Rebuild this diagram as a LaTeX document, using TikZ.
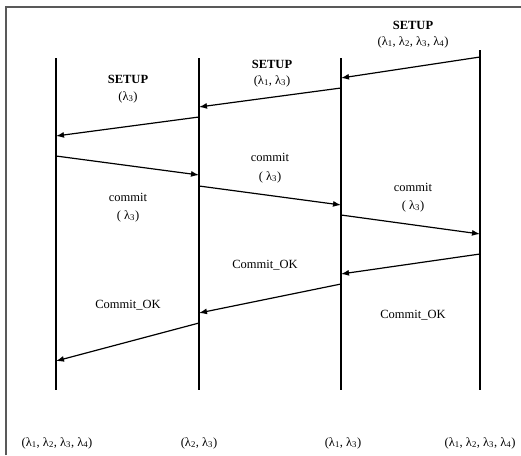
\documentclass[tikz,border=0pt]{standalone}
\usepackage{fontspec}
\setmainfont{Liberation Serif}
\usetikzlibrary{arrows.meta}
\newcommand{\lam}[1]{λ\textsubscript{#1}}
\tikzset{
  lifeline/.style={line width=1.8pt},
  msg/.style={line width=1.2pt,-{Latex[length=8pt,width=6pt]}},
  lbl/.style={font=\fontsize{12.5}{13}\selectfont,inner sep=0pt,align=center},
  hdr/.style={lbl,font=\fontsize{12.5}{13}\selectfont\bfseries},
  frameline/.style={draw=black!65,line width=1.2pt}
}
\begin{document}
\begin{tikzpicture}[x=1pt,y=-1pt]
\useasboundingbox (0,0) rectangle (521,455);
% outer frame (top and left edges)
\coordinate (fa) at (6,455);
\coordinate (fb) at (6,7);
\coordinate (fc) at (521,7);
\draw[frameline] (fa) -- (fb) -- (fc);

% lifelines
\coordinate (t1) at (56,58);  \coordinate (b1) at (56,390);
\coordinate (t2) at (199,58); \coordinate (b2) at (199,390);
\coordinate (t3) at (341,58); \coordinate (b3) at (341,390);
\coordinate (t4) at (480,50); \coordinate (b4) at (480,390);
\draw[lifeline] (t1) -- (b1);
\draw[lifeline] (t2) -- (b2);
\draw[lifeline] (t3) -- (b3);
\draw[lifeline] (t4) -- (b4);

% message end points
\coordinate (s1a) at (480,57);  \coordinate (s1b) at (341,78);
\coordinate (s2a) at (341,88);  \coordinate (s2b) at (199,107);
\coordinate (s3a) at (199,117); \coordinate (s3b) at (56,136);
\coordinate (c1a) at (56,156);  \coordinate (c1b) at (199,175);
\coordinate (c2a) at (199,186); \coordinate (c2b) at (341,205);
\coordinate (c3a) at (341,215); \coordinate (c3b) at (480,234);
\coordinate (k1a) at (480,254); \coordinate (k1b) at (341,274);
\coordinate (k2a) at (341,284); \coordinate (k2b) at (199,313);
\coordinate (k3a) at (199,323); \coordinate (k3b) at (56,361);

\draw[msg] (s1a) -- (s1b);
\draw[msg] (s2a) -- (s2b);
\draw[msg] (s3a) -- (s3b);
\draw[msg] (c1a) -- (c1b);
\draw[msg] (c2a) -- (c2b);
\draw[msg] (c3a) -- (c3b);
\draw[msg] (k1a) -- (k1b);
\draw[msg] (k2a) -- (k2b);
\draw[msg] (k3a) -- (k3b);

% SETUP labels
\node[hdr] (sl1) at (128,79) {SETUP};
\node[lbl] (sp1) at (128,97) {(\lam{3})};
\node[hdr] (sl2) at (272,64) {SETUP};
\node[lbl] (sp2) at (272,81) {(\lam{1}, \lam{3})};
\node[hdr] (sl3) at (413,25) {SETUP};
\node[lbl] (sp3) at (413,42) {(\lam{1}, \lam{2}, \lam{3}, \lam{4})};

% commit labels
\node[lbl] (cl1) at (128,197) {commit};
\node[lbl] (cp1) at (128,216) {( \lam{3})};
\node[lbl] (cl2) at (270,157) {commit};
\node[lbl] (cp2) at (270,177) {( \lam{3})};
\node[lbl] (cl3) at (413,187) {commit};
\node[lbl] (cp3) at (413,206) {( \lam{3})};

% Commit_OK labels
\node[lbl] (ok1) at (128,305) {Commit\_OK};
\node[lbl] (ok2) at (265,265) {Commit\_OK};
\node[lbl] (ok3) at (413,315) {Commit\_OK};

% node sets under the lifelines
\node[lbl] (n1) at (57,443) {(\lam{1}, \lam{2}, \lam{3}, \lam{4})};
\node[lbl] (n2) at (199,443) {(\lam{2}, \lam{3})};
\node[lbl] (n3) at (343,443) {(\lam{1}, \lam{3})};
\node[lbl] (n4) at (480,443) {(\lam{1}, \lam{2}, \lam{3}, \lam{4})};
\end{tikzpicture}
\end{document}
